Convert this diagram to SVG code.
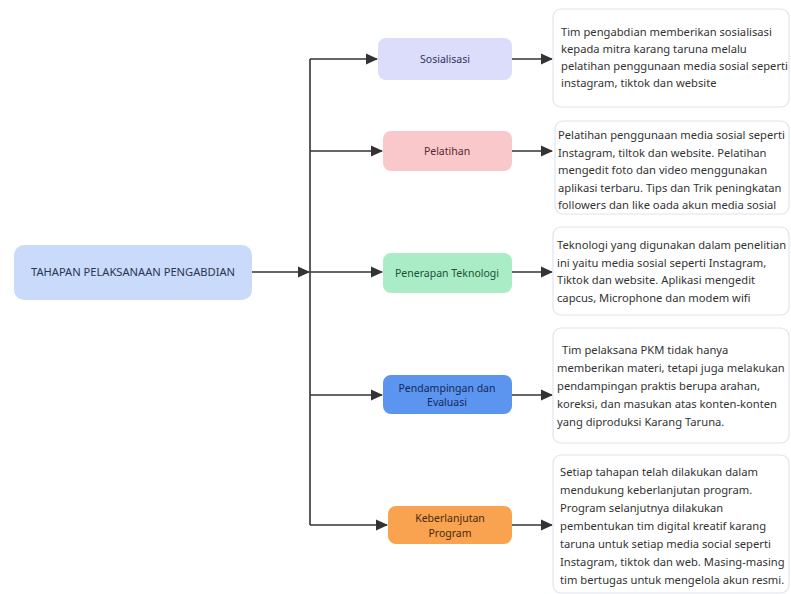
<svg xmlns="http://www.w3.org/2000/svg" width="791" height="594" viewBox="0 0 791 594">
<defs>
<marker id="ah" markerWidth="12" markerHeight="12" refX="11" refY="6" orient="auto" markerUnits="userSpaceOnUse">
<path d="M0,0.5 L12,6 L0,11.5 Z" fill="#333"/>
</marker>
<style>
.edge{fill:none;stroke:#333;stroke-width:1.6}
.node{stroke:none}
.lbl{font-family:"Noto Sans","Open Sans",sans-serif;font-size:10.5px;text-anchor:middle;dominant-baseline:central}
.box{fill:#fff;stroke:#dfe4ee;stroke-width:1.2}
.txt{font-family:"Noto Sans","Open Sans",sans-serif;font-size:11.2px;fill:#333}
</style>
</defs>
<rect width="791" height="594" fill="#fff"/>
<g id="connectors">
<path class="edge" d="M310,59 V525"/>
<path class="edge" d="M252,272 H309" marker-end="url(#ah)"/>
<path class="edge" d="M310,59 H377" marker-end="url(#ah)"/>
<path class="edge" d="M310,151 H382" marker-end="url(#ah)"/>
<path class="edge" d="M310,272 H382" marker-end="url(#ah)"/>
<path class="edge" d="M310,395 H382" marker-end="url(#ah)"/>
<path class="edge" d="M310,525 H387" marker-end="url(#ah)"/>
<path class="edge" d="M512,59 H552" marker-end="url(#ah)"/>
<path class="edge" d="M512,151 H552" marker-end="url(#ah)"/>
<path class="edge" d="M512,272 H552" marker-end="url(#ah)"/>
<path class="edge" d="M512,395 H552" marker-end="url(#ah)"/>
<path class="edge" d="M512,525 H552" marker-end="url(#ah)"/>
</g>
<g id="root">
<rect class="node" x="14" y="245" width="238" height="55" rx="10" fill="#c9dafb"/>
<text class="lbl" x="133" y="272" fill="#2b3550" textLength="204" lengthAdjust="spacingAndGlyphs">TAHAPAN PELAKSANAAN PENGABDIAN</text>
</g>
<g id="sosialisasi">
<rect class="node" x="378" y="38" width="134" height="42" rx="8" fill="#dcdcfb"/>
<text class="lbl" x="445" y="59" fill="#33335a">Sosialisasi</text>
</g>
<g id="pelatihan">
<rect class="node" x="383" y="131" width="129" height="40" rx="8" fill="#f9c8cb"/>
<text class="lbl" x="447" y="151" fill="#5a2a2e">Pelatihan</text>
</g>
<g id="penerapan">
<rect class="node" x="383" y="253" width="129" height="40" rx="8" fill="#a9ecc6"/>
<text class="lbl" x="447" y="273" fill="#1f5035">Penerapan Teknologi</text>
</g>
<g id="pendampingan">
<rect class="node" x="383" y="375" width="129" height="39" rx="8" fill="#5b95ef"/>
<text class="lbl" x="447" y="388" fill="#16285a">Pendampingan dan</text>
<text class="lbl" x="447" y="402" fill="#16285a">Evaluasi</text>
</g>
<g id="keberlanjutan">
<rect class="node" x="388" y="506" width="124" height="38" rx="8" fill="#f9a24f"/>
<text class="lbl" x="450" y="518" fill="#4a2a10">Keberlanjutan</text>
<text class="lbl" x="450" y="533" fill="#4a2a10">Program</text>
</g>
<g id="desc1">
<rect class="box" x="553" y="9" width="236" height="98" rx="8"/>
<text class="txt"><tspan x="561" y="36">Tim pengabdian memberikan sosialisasi</tspan><tspan x="561" y="53">kepada mitra karang taruna melalu</tspan><tspan x="561" y="70">pelatihan penggunaan media sosial seperti</tspan><tspan x="561" y="87">instagram, tiktok dan website</tspan></text>
</g>
<g id="desc2">
<rect class="box" x="555" y="121" width="234" height="93" rx="8"/>
<text class="txt"><tspan x="558" y="139">Pelatihan penggunaan media sosial seperti</tspan><tspan x="558" y="156.5">Instagram, tiltok dan website. Pelatihan</tspan><tspan x="558" y="174">mengedit foto dan video menggunakan</tspan><tspan x="558" y="191.5">aplikasi terbaru. Tips dan Trik peningkatan</tspan><tspan x="558" y="209">followers dan like oada akun media sosial</tspan></text>
</g>
<g id="desc3">
<rect class="box" x="553" y="227" width="236" height="88" rx="8"/>
<text class="txt"><tspan x="557" y="249">Teknologi yang digunakan dalam penelitian</tspan><tspan x="557" y="266.5">ini yaitu media sosial seperti Instagram,</tspan><tspan x="557" y="284">Tiktok dan website. Aplikasi mengedit</tspan><tspan x="557" y="301.5">capcus, Microphone dan modem wifi</tspan></text>
</g>
<g id="desc4">
<rect class="box" x="553" y="328" width="236" height="115" rx="8"/>
<text class="txt"><tspan x="562" y="354">Tim pelaksana PKM tidak hanya</tspan><tspan x="557" y="372">memberikan materi, tetapi juga melakukan</tspan><tspan x="557" y="390">pendampingan praktis berupa arahan,</tspan><tspan x="557" y="408">koreksi, dan masukan atas konten-konten</tspan><tspan x="557" y="426">yang diproduksi Karang Taruna.</tspan></text>
</g>
<g id="desc5">
<rect class="box" x="553" y="455" width="236" height="138" rx="8"/>
<text class="txt"><tspan x="560" y="476">Setiap tahapan telah dilakukan dalam</tspan><tspan x="560" y="494">mendukung keberlanjutan program.</tspan><tspan x="560" y="512">Program selanjutnya dilakukan</tspan><tspan x="560" y="530">pembentukan tim digital kreatif karang</tspan><tspan x="560" y="548">taruna untuk setiap media social seperti</tspan><tspan x="560" y="566">Instagram, tiktok dan web. Masing-masing</tspan><tspan x="560" y="584">tim bertugas untuk mengelola akun resmi.</tspan></text>
</g>
</svg>
